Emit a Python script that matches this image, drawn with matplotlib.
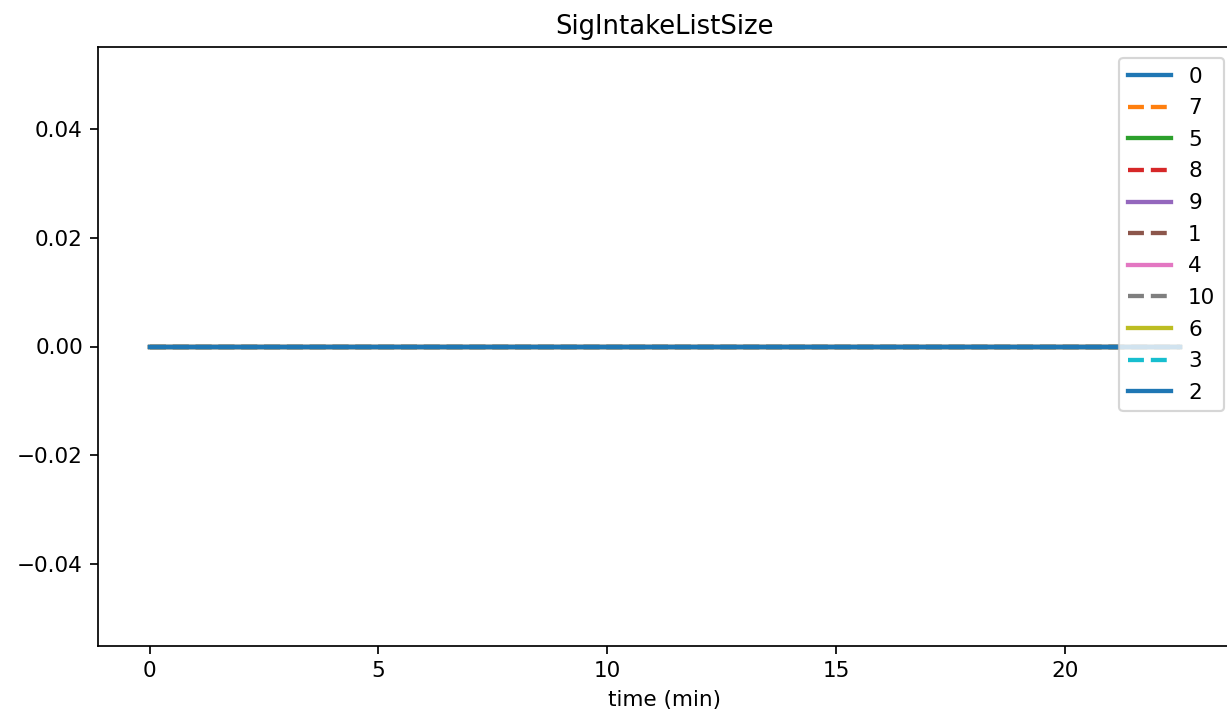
import matplotlib
matplotlib.use("Agg")
import matplotlib.pyplot as plt

labels = ["0", "7", "5", "8", "9", "1", "4", "10", "6", "3", "2"]
colors = ["#1f77b4", "#ff7f0e", "#2ca02c", "#d62728", "#9467bd", "#8c564b",
          "#e377c2", "#7f7f7f", "#bcbd22", "#17becf", "#1f77b4"]
styles = ["-", "--", "-", "--", "-", "--", "-", "--", "-", "--", "-"]
time_min = [0.0, 2.5, 5.0, 7.5, 10.0, 12.5, 15.0, 17.5, 20.0, 22.5]
sizes = {
    "0": [0, 0, 0, 0, 0, 0, 0, 0, 0, 0],
    "7": [0, 0, 0, 0, 0, 0, 0, 0, 0, 0],
    "5": [0, 0, 0, 0, 0, 0, 0, 0, 0, 0],
    "8": [0, 0, 0, 0, 0, 0, 0, 0, 0, 0],
    "9": [0, 0, 0, 0, 0, 0, 0, 0, 0, 0],
    "1": [0, 0, 0, 0, 0, 0, 0, 0, 0, 0],
    "4": [0, 0, 0, 0, 0, 0, 0, 0, 0, 0],
    "10": [0, 0, 0, 0, 0, 0, 0, 0, 0, 0],
    "6": [0, 0, 0, 0, 0, 0, 0, 0, 0, 0],
    "3": [0, 0, 0, 0, 0, 0, 0, 0, 0, 0],
    "2": [0, 0, 0, 0, 0, 0, 0, 0, 0, 0],
}

W, H, DPI = 1227, 716, 155
fig = plt.figure(figsize=(W / DPI, H / DPI), dpi=DPI)
ax = fig.add_axes([98 / W, (H - 646) / H, (1231 - 98) / W, (646 - 47) / H])

for lab, col, ls in zip(labels, colors, styles):
    ax.plot(time_min, sizes[lab], color=col, linestyle=ls, linewidth=2, label=lab)

ax.set_title("SigIntakeListSize")
ax.set_xlabel("time (min)")
fig.legend(loc="upper right", bbox_to_anchor=(1224 / W, 1 - 58 / H),
           bbox_transform=fig.transFigure, borderaxespad=0, labelspacing=0.54)

fig.savefig("out.png", dpi=DPI)
